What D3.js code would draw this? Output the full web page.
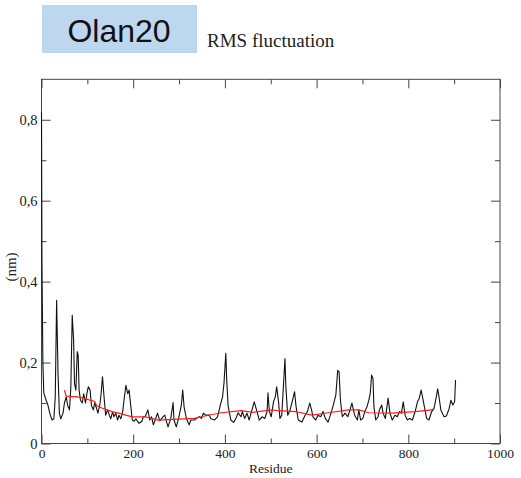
<!DOCTYPE html>
<html>
<head>
<meta charset="utf-8">
<script src="https://cdn.jsdelivr.net/npm/d3@7"></script>
<style>
  body { margin: 0; background: #fff; }
</style>
</head>
<body>
<div id="chart"></div>
<script>
/**
 * Data
 */
const residues = [0, 1, 2, 3, 5, 10, 14, 18, 23, 27, 30, 33, 36, 39, 42, 47, 50, 54, 57, 61,
  64, 67, 70, 72, 75, 78, 80, 82, 85, 89, 92, 96, 99, 102, 106, 109, 113, 116, 120, 123,
  127, 130, 133, 137, 140, 144, 148, 151, 155, 158, 162, 166, 169, 173, 177, 180, 184, 188, 191, 195,
  198, 202, 206, 209, 213, 219, 222, 226, 232, 236, 240, 244, 248, 253, 258, 265, 269, 272, 276, 282,
  287, 289, 294, 299, 305, 308, 311, 316, 322, 326, 334, 337, 344, 349, 353, 358, 366, 369, 377, 384,
  390, 395, 398, 402, 404, 407, 413, 419, 424, 429, 435, 438, 443, 448, 453, 457, 464, 470, 475, 481,
  487, 492, 494, 497, 501, 506, 510, 513, 517, 520, 524, 528, 531, 533, 537, 541, 546, 552, 555, 560,
  568, 575, 580, 585, 589, 592, 598, 603, 609, 614, 619, 625, 630, 636, 642, 646, 649, 652, 656, 662,
  668, 673, 677, 683, 689, 692, 696, 701, 705, 710, 714, 717, 720, 723, 725, 729, 734, 737, 742, 745,
  750, 756, 760, 765, 771, 776, 781, 785, 789, 793, 798, 803, 809, 815, 820, 824, 828, 831, 835, 840,
  845, 851, 856, 861, 864, 867, 871, 878, 883, 889, 893, 897, 901, 903];

const rmsf = [0.82, 0.45, 0.32, 0.2, 0.125, 0.107, 0.095, 0.075, 0.058, 0.061, 0.115, 0.354, 0.174, 0.075, 0.061, 0.075, 0.1, 0.115, 0.094, 0.083,
  0.14, 0.317, 0.256, 0.148, 0.132, 0.227, 0.218, 0.132, 0.107, 0.1, 0.123, 0.1, 0.123, 0.14, 0.132, 0.094, 0.083, 0.1, 0.087, 0.075,
  0.094, 0.123, 0.165, 0.107, 0.07, 0.083, 0.07, 0.061, 0.078, 0.066, 0.075, 0.058, 0.07, 0.061, 0.078, 0.107, 0.144, 0.123, 0.132, 0.09,
  0.058, 0.055, 0.061, 0.055, 0.05, 0.055, 0.066, 0.066, 0.083, 0.058, 0.066, 0.046, 0.058, 0.075, 0.056, 0.066, 0.07, 0.056, 0.041, 0.062,
  0.101, 0.058, 0.041, 0.062, 0.095, 0.132, 0.09, 0.062, 0.046, 0.058, 0.058, 0.062, 0.066, 0.062, 0.075, 0.07, 0.07, 0.062, 0.058, 0.066,
  0.095, 0.116, 0.149, 0.223, 0.156, 0.093, 0.058, 0.052, 0.062, 0.076, 0.066, 0.079, 0.062, 0.075, 0.058, 0.075, 0.103, 0.079, 0.058, 0.066,
  0.062, 0.079, 0.125, 0.079, 0.066, 0.103, 0.116, 0.14, 0.103, 0.062, 0.07, 0.149, 0.21, 0.14, 0.07, 0.079, 0.1, 0.128, 0.093, 0.058,
  0.053, 0.07, 0.079, 0.1, 0.083, 0.066, 0.058, 0.07, 0.066, 0.079, 0.062, 0.053, 0.07, 0.093, 0.12, 0.181, 0.177, 0.107, 0.066, 0.075,
  0.066, 0.083, 0.1, 0.07, 0.058, 0.083, 0.058, 0.062, 0.079, 0.091, 0.107, 0.124, 0.169, 0.161, 0.091, 0.058, 0.066, 0.083, 0.095, 0.075,
  0.062, 0.112, 0.075, 0.058, 0.07, 0.066, 0.079, 0.075, 0.103, 0.07, 0.058, 0.062, 0.058, 0.079, 0.103, 0.112, 0.132, 0.115, 0.091, 0.062,
  0.058, 0.079, 0.086, 0.115, 0.135, 0.115, 0.083, 0.066, 0.068, 0.086, 0.107, 0.095, 0.103, 0.157];

// running average (red)
const avgResidues = [50, 54, 78, 92, 106, 116, 120, 133, 155, 169, 184, 198, 226, 255, 298, 334,
  356, 392, 436, 461, 503, 517, 553, 590, 626, 670, 692, 714, 765, 815, 851, 854];
const avgRmsf = [0.132, 0.117, 0.115, 0.112, 0.107, 0.104, 0.094, 0.087, 0.078, 0.075, 0.07, 0.066, 0.066, 0.058, 0.06, 0.062,
  0.068, 0.076, 0.081, 0.077, 0.083, 0.081, 0.079, 0.07, 0.076, 0.083, 0.083, 0.076, 0.075, 0.079, 0.083, 0.085];

const xMajor = [0, 200, 400, 600, 800, 1000];
const xMinor = [100, 300, 500, 700, 900];
const yMajor = [0, 0.2, 0.4, 0.6, 0.8];
const yMinor = [0.1, 0.3, 0.5, 0.7];

/**
 * Basic settings
 */
const canvasWidth = 521;
const canvasHeight = 478;
const plotLeft = 41.5, plotRight = 500, plotTop = 79.3, plotBottom = 443.5;
const serif = "'Liberation Serif', 'Times New Roman', serif";

const svg = d3.select("#chart")
  .append("svg")
  .attr("width", canvasWidth)
  .attr("height", canvasHeight)
  .style("background", "#fff");

/**
 * Title block
 */
svg.append("rect")
  .attr("x", 42).attr("y", 5)
  .attr("width", 155).attr("height", 48)
  .attr("fill", "#bdd7ee");

svg.append("text")
  .attr("x", 119).attr("y", 41.5)
  .attr("text-anchor", "middle")
  .style("font-family", "'Liberation Sans', Arial, sans-serif")
  .style("font-size", "32px")
  .attr("fill", "#111")
  .text("Olan20");

svg.append("text")
  .attr("x", 207).attr("y", 47)
  .style("font-family", serif)
  .style("font-size", "19px")
  .attr("fill", "#222")
  .text("RMS fluctuation");

/**
 * Scales
 */
const xScale = d3.scaleLinear().domain([0, 1000]).range([plotLeft, plotRight]);
const yScale = d3.scaleLinear().domain([0, 0.9]).range([plotBottom, plotTop]);

const yFmt = d => d === 0 ? "0" : d3.format(".1f")(d).replace(".", ",");
const xFmt = d3.format("d");

/**
 * Frame and ticks (inward)
 */
svg.append("rect")
  .attr("x", plotLeft).attr("y", plotTop)
  .attr("width", plotRight - plotLeft).attr("height", plotBottom - plotTop)
  .attr("fill", "none")
  .attr("stroke", "#444");

function addAxis(axis, tx, ty, size) {
  const g = svg.append("g")
    .attr("transform", "translate(" + tx + "," + ty + ")")
    .call(axis);
  g.select(".domain").remove();
  g.selectAll("line").attr("stroke", "#444");
  g.selectAll("text")
    .style("font-family", serif)
    .style("font-size", (size || 13) + "px")
    .attr("fill", "#222");
  return g;
}

addAxis(d3.axisBottom(xScale).tickValues(xMajor).tickSize(-9).tickPadding(5).tickFormat(xFmt), 0, plotBottom, 13.5);
addAxis(d3.axisBottom(xScale).tickValues(xMinor).tickSize(-5).tickFormat(""), 0, plotBottom);
addAxis(d3.axisTop(xScale).tickValues(xMajor).tickSize(-9).tickFormat(""), 0, plotTop);
addAxis(d3.axisTop(xScale).tickValues(xMinor).tickSize(-5).tickFormat(""), 0, plotTop);

addAxis(d3.axisLeft(yScale).tickValues(yMajor).tickSize(-9).tickPadding(4).tickFormat(yFmt), plotLeft, 0, 14.5);
addAxis(d3.axisLeft(yScale).tickValues(yMinor).tickSize(-5).tickFormat(""), plotLeft, 0);
addAxis(d3.axisRight(yScale).tickValues(yMajor).tickSize(-9).tickFormat(""), plotRight, 0);
addAxis(d3.axisRight(yScale).tickValues(yMinor).tickSize(-5).tickFormat(""), plotRight, 0);

/**
 * Axis labels
 */
svg.append("text")
  .attr("x", (plotLeft + plotRight) / 2).attr("y", 473)
  .attr("text-anchor", "middle")
  .style("font-family", serif)
  .style("font-size", "13.5px")
  .attr("fill", "#222")
  .text("Residue");

svg.append("text")
  .attr("transform", "translate(16," + 267 + ") rotate(-90)")
  .attr("text-anchor", "middle")
  .style("font-family", serif)
  .style("font-size", "15px")
  .attr("fill", "#222")
  .text("(nm)");

/**
 * Lines
 */
const line = d3.line()
  .x(d => xScale(d[0]))
  .y(d => yScale(d[1]));

svg.append("path")
  .datum(d3.zip(residues, rmsf))
  .attr("d", line)
  .attr("fill", "none")
  .attr("stroke", "#111")
  .attr("stroke-width", 1.1)
  .attr("stroke-linejoin", "round");

svg.append("path")
  .datum(d3.zip(avgResidues, avgRmsf))
  .attr("d", line)
  .attr("fill", "none")
  .attr("stroke", "#ff1a1a")
  .attr("stroke-width", 1.2);
</script>
</body>
</html>
